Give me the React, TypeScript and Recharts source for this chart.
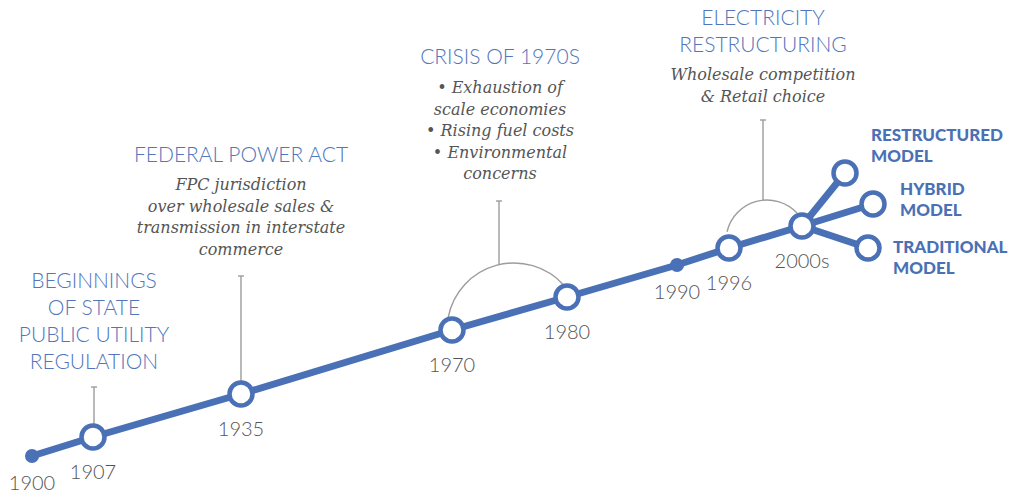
import { ComposedChart, Line, XAxis, YAxis, ReferenceLine, ReferenceDot } from 'recharts';

// timeline nodes: position along the page (x) and height from the top (y)
const years = ['1900', '1907', '1935', '1970', '1980', '1990', '1996', '2000s'];
const yearX = [32, 93, 241, 452, 567, 677, 729, 802];
const yearY = [456, 437, 394, 330, 297, 265, 248, 226];
const yearKind = ['dot', 'ring', 'ring', 'ring', 'ring', 'dot', 'ring', 'ring'];

// the three models that branch out of the 2000s node
const models = ['RESTRUCTURED', 'HYBRID', 'TRADITIONAL'];
const modelX = [845, 873, 868];
const modelY = [173, 204, 248];
const modelLabelX = [871, 900, 893];
const modelLabelY = [141, 195, 253];

// annotation blocks
const titles = [
  { x: 94, y: 288, lines: ['BEGINNINGS', 'OF STATE', 'PUBLIC UTILITY', 'REGULATION'] },
  { x: 241, y: 162, lines: ['FEDERAL POWER ACT'] },
  { x: 500, y: 64, lines: ['CRISIS OF 1970S'] },
  { x: 763, y: 25, lines: ['ELECTRICITY', 'RESTRUCTURING'] },
];
const notes = [
  { x: 241, y: 190, lines: ['FPC jurisdiction', 'over wholesale sales &', 'transmission in interstate', 'commerce'] },
  { x: 500, y: 93, lines: ['• Exhaustion of', 'scale economies', '• Rising fuel costs', '• Environmental', 'concerns'] },
  { x: 763, y: 80, lines: ['Wholesale competition', '& Retail choice'] },
];

// vertical leader lines: x, top, bottom
const leaders = [
  { x: 94, top: 387, bottom: 424 },
  { x: 241, top: 276, bottom: 381 },
  { x: 499, top: 201, bottom: 265 },
  { x: 763, top: 120, bottom: 200 },
];
// arcs bracketing two nodes: centre, radius (px), start/end angle (deg)
const arcs = [
  { x: 514, y: 330, r: 67, from: -169, to: -42 },
  { x: 767, y: 241, r: 41, from: -167, to: -43 },
];

const BLUE = '#4a70b6';
const TITLE_BLUE = '#5176bb';
const GREY = '#555555';
const LEADER = '#9c9c9c';

const mainData = years.map((label, i) => ({ x: yearX[i], y: yearY[i], label, kind: yearKind[i] }));
const hub = mainData[mainData.length - 1];
const branchData = models.map((m, i) => [
  { x: hub.x, y: hub.y, label: '', kind: 'none' },
  { x: modelX[i], y: modelY[i], label: '', kind: 'ring' },
]);

const renderNode = (props: any) => {
  const { cx, cy, payload, index } = props;
  if (payload.kind === 'none') return <g key={index} />;
  const ring = payload.kind === 'ring';
  return (
    <g key={index}>
      {ring ? (
        <circle cx={cx} cy={cy} r={11.5} fill="#fff" stroke={BLUE} strokeWidth={4.5} />
      ) : (
        <circle cx={cx} cy={cy} r={7} fill={BLUE} />
      )}
      {payload.label && (
        <text
          x={cx}
          y={cy + (ring ? 42 : 34)}
          textAnchor="middle"
          fill={GREY}
          fontFamily="Lato, sans-serif"
          fontWeight={300}
          fontSize={20}
        >
          {payload.label}
        </text>
      )}
    </g>
  );
};

const textBlock = (lines: string[], opts: any) => (props: any) => (
  <text
    x={props.cx}
    y={props.cy}
    textAnchor={opts.anchor || 'middle'}
    fill={opts.fill}
    fontFamily={opts.family}
    fontStyle={opts.style || 'normal'}
    fontWeight={opts.weight || 400}
    fontSize={opts.size}
  >
    {lines.map((l, i) => (
      <tspan key={i} x={props.cx} dy={i === 0 ? 0 : opts.lh}>
        {l}
      </tspan>
    ))}
  </text>
);

const arcShape = (a: any) => (props: any) => {
  const rad = (d: number) => (d * Math.PI) / 180;
  const x1 = props.cx + a.r * Math.cos(rad(a.from));
  const y1 = props.cy + a.r * Math.sin(rad(a.from));
  const x2 = props.cx + a.r * Math.cos(rad(a.to));
  const y2 = props.cy + a.r * Math.sin(rad(a.to));
  return <path d={`M${x1},${y1} A${a.r},${a.r} 0 0 1 ${x2},${y2}`} fill="none" stroke={LEADER} strokeWidth={1.4} />;
};

export default function App() {
  return (
    <div style={{ position: 'absolute', left: 0, top: 0, background: '#fff' }}>
      <ComposedChart width={1015} height={494} margin={{ top: 0, right: 0, bottom: 0, left: 0 }}>
        <XAxis type="number" dataKey="x" domain={[0, 1015]} hide />
        <YAxis type="number" dataKey="y" domain={[0, 494]} reversed hide />

        {leaders.map((l, i) => (
          <ReferenceLine
            key={'l' + i}
            segment={[{ x: l.x, y: l.top }, { x: l.x, y: l.bottom }]}
            stroke={LEADER}
            strokeWidth={1.4}
          />
        ))}
        {leaders.map((l, i) => (
          <ReferenceLine
            key={'t' + i}
            segment={[{ x: l.x - 3, y: l.top }, { x: l.x + 3, y: l.top }]}
            stroke={LEADER}
            strokeWidth={1.4}
          />
        ))}
        {arcs.map((a, i) => (
          <ReferenceDot key={'a' + i} x={a.x} y={a.y} r={0} shape={arcShape(a)} />
        ))}

        {branchData.map((d, i) => (
          <Line
            key={'b' + i}
            data={d}
            dataKey="y"
            type="linear"
            stroke={BLUE}
            strokeWidth={7}
            dot={renderNode}
            activeDot={false}
            isAnimationActive={false}
          />
        ))}
        <Line
          data={mainData}
          dataKey="y"
          type="linear"
          stroke={BLUE}
          strokeWidth={7}
          dot={renderNode}
          activeDot={false}
          isAnimationActive={false}
        />

        {titles.map((t, i) => (
          <ReferenceDot
            key={'ti' + i}
            x={t.x}
            y={t.y}
            r={0}
            shape={textBlock(t.lines, { fill: TITLE_BLUE, family: 'Lato, sans-serif', weight: 300, size: 21, lh: 27 })}
          />
        ))}
        {notes.map((n, i) => (
          <ReferenceDot
            key={'n' + i}
            x={n.x}
            y={n.y}
            r={0}
            shape={textBlock(n.lines, { fill: GREY, family: '"DejaVu Serif", serif', style: 'italic', size: 16, lh: 21.5 })}
          />
        ))}
        {models.map((m, i) => (
          <ReferenceDot
            key={'m' + i}
            x={modelLabelX[i]}
            y={modelLabelY[i]}
            r={0}
            shape={textBlock([m, 'MODEL'], {
              fill: BLUE,
              family: 'Lato, sans-serif',
              weight: 900,
              size: 17,
              lh: 21,
              anchor: 'start',
            })}
          />
        ))}
      </ComposedChart>
    </div>
  );
}
